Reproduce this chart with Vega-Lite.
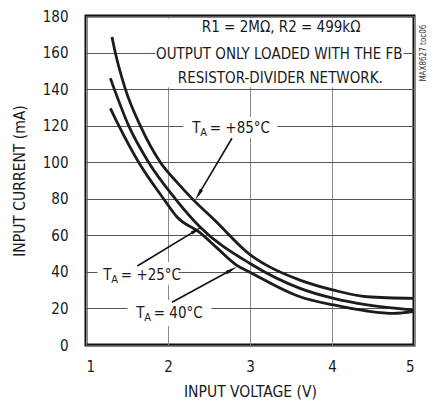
{
  "$schema": "https://vega.github.io/schema/vega-lite/v6.json",
  "width": 328,
  "height": 329,
  "autosize": {"type": "none"},
  "padding": {"left": 86, "top": 16, "right": 19, "bottom": 62},
  "background": "white",
  "config": {
    "view": {"stroke": "#111", "strokeWidth": 3},
    "font": "DejaVu Sans Condensed, DejaVu Sans, sans-serif",
    "axis": {
      "domain": false,
      "ticks": false,
      "tickSize": 0,
      "labelFont": "DejaVu Sans Condensed, DejaVu Sans, sans-serif",
      "titleFont": "DejaVu Sans Condensed, DejaVu Sans, sans-serif",
      "labelFontSize": 15,
      "titleFontSize": 15.5,
      "titleFontWeight": "normal",
      "labelColor": "#1a1a1a",
      "titleColor": "#1a1a1a",
      "gridOpacity": 1,
      "gridWidth": 1,
      "grid": true
    },
    "axisX": {"gridColor": "#8a8a8a"},
    "axisY": {"gridColor": "#555555"}
  },
  "datasets": {
    "curves": [
      {"T": "85", "V": 1.317, "I": 168.5},
      {"T": "85", "V": 1.357, "I": 160.0},
      {"T": "85", "V": 1.48, "I": 140.0},
      {"T": "85", "V": 1.662, "I": 120.0},
      {"T": "85", "V": 1.906, "I": 100.0},
      {"T": "85", "V": 2.10, "I": 89.5},
      {"T": "85", "V": 2.30, "I": 79.8},
      {"T": "85", "V": 2.57, "I": 68.3},
      {"T": "85", "V": 3.00, "I": 49.5},
      {"T": "85", "V": 3.20, "I": 43.7},
      {"T": "85", "V": 3.61, "I": 35.5},
      {"T": "85", "V": 4.02, "I": 30.0},
      {"T": "85", "V": 4.43, "I": 26.4},
      {"T": "85", "V": 5.00, "I": 25.5},
      {"T": "25", "V": 1.297, "I": 145.9},
      {"T": "25", "V": 1.345, "I": 140.0},
      {"T": "25", "V": 1.52, "I": 120.0},
      {"T": "25", "V": 1.763, "I": 100.0},
      {"T": "25", "V": 2.089, "I": 80.0},
      {"T": "25", "V": 2.39, "I": 64.6},
      {"T": "25", "V": 3.00, "I": 44.6},
      {"T": "25", "V": 3.61, "I": 31.0},
      {"T": "25", "V": 4.02, "I": 25.5},
      {"T": "25", "V": 4.43, "I": 21.9},
      {"T": "25", "V": 5.00, "I": 19.1},
      {"T": "40", "V": 1.297, "I": 129.5},
      {"T": "40", "V": 1.40, "I": 120.0},
      {"T": "40", "V": 1.642, "I": 100.0},
      {"T": "40", "V": 1.946, "I": 80.0},
      {"T": "40", "V": 2.11, "I": 70.0},
      {"T": "40", "V": 2.39, "I": 61.5},
      {"T": "40", "V": 2.60, "I": 53.0},
      {"T": "40", "V": 2.84, "I": 43.6},
      {"T": "40", "V": 3.00, "I": 39.8},
      {"T": "40", "V": 3.61, "I": 26.4},
      {"T": "40", "V": 4.02, "I": 21.9},
      {"T": "40", "V": 4.43, "I": 18.6},
      {"T": "40", "V": 4.75, "I": 17.3},
      {"T": "40", "V": 5.00, "I": 18.4}
    ],
    "boxes": [
      {"V": 1.847, "V2": 4.870, "I": 141.0, "I2": 178.7},
      {"V": 2.187, "V2": 3.333, "I": 113.2, "I2": 124.7},
      {"V": 1.139, "V2": 2.126, "I": 32.8, "I2": 45.4},
      {"V": 1.505, "V2": 2.529, "I": 10.4, "I2": 24.6}
    ],
    "notes": [
      {"V": 3.38, "I": 174.1, "txt": "R1 = 2MΩ, R2 = 499kΩ"},
      {"V": 3.357, "I": 159.2, "txt": "OUTPUT ONLY LOADED WITH THE FB"},
      {"V": 3.37, "I": 146.3, "txt": "RESISTOR-DIVIDER NETWORK."}
    ],
    "labels": [
      {"V": 2.296, "I": 118.8, "rest": "= +85°C"},
      {"V": 1.211, "I": 38.3, "rest": "= +25°C"},
      {"V": 1.613, "I": 17.3, "rest": "= 40°C"}
    ],
    "arrows": [
      {"a": "85", "V": 2.780, "I": 113.1},
      {"a": "85", "V": 2.370, "I": 82.1},
      {"a": "25", "V": 1.626, "I": 43.2},
      {"a": "25", "V": 2.352, "I": 63.0},
      {"a": "40", "V": 2.049, "I": 23.4},
      {"a": "40", "V": 2.777, "I": 41.2}
    ],
    "side": [
      {"V": 5.126, "I": 159.7, "txt": "MAX8627 toc06"}
    ]
  },
  "encoding": {
    "x": {"field": "V", "type": "quantitative", "title": "INPUT VOLTAGE (V)", "scale": {"domain": [1, 5], "nice": false, "zero": false},
          "axis": {"values": [1, 2, 3, 4, 5], "labelPadding": 14, "titlePadding": 10, "grid": true}},
    "y": {"field": "I", "type": "quantitative", "title": "INPUT CURRENT (mA)", "scale": {"domain": [0, 180], "nice": false},
          "axis": {"values": [0, 20, 40, 60, 80, 100, 120, 140, 160, 180], "labelPadding": 18, "titlePadding": 15, "grid": true}}
  },
  "layer": [
    {
      "data": {"name": "boxes"},
      "mark": {"type": "rect", "fill": "white", "strokeWidth": 0},
      "encoding": {
        "x2": {"field": "V2"},
        "y2": {"field": "I2"}
      }
    },
    {
      "data": {"name": "curves"},
      "mark": {"type": "line", "interpolate": "monotone", "color": "#1c1c1c", "strokeWidth": 2.8},
      "encoding": {
        "detail": {"field": "T"}
      }
    },
    {
      "data": {"name": "notes"},
      "mark": {"type": "text", "fontSize": 15, "align": "center", "baseline": "middle", "color": "#1a1a1a"},
      "encoding": {
        "text": {"field": "txt"}
      }
    },
    {
      "data": {"name": "labels"},
      "mark": {"type": "text", "fontSize": 15, "align": "left", "baseline": "middle", "color": "#1a1a1a", "text": "T"}
    },
    {
      "data": {"name": "labels"},
      "mark": {"type": "text", "fontSize": 11, "align": "left", "baseline": "middle", "color": "#1a1a1a", "text": "A", "dx": 8, "dy": 5}
    },
    {
      "data": {"name": "labels"},
      "mark": {"type": "text", "fontSize": 15, "align": "left", "baseline": "middle", "color": "#1a1a1a", "dx": 17.5},
      "encoding": {
        "text": {"field": "rest"}
      }
    },
    {
      "data": {"name": "arrows"},
      "mark": {"type": "line", "color": "#111", "strokeWidth": 1.6},
      "encoding": {
        "detail": {"field": "a"}
      }
    },
    {
      "data": {"values": [{"V": 2.370, "I": 82.1}]},
      "mark": {"type": "point", "shape": "M0,-1L-0.3,1L0.3,1Z", "filled": true, "color": "#111", "opacity": 1, "size": 144, "angle": 210.7}
    },
    {
      "data": {"values": [{"V": 2.352, "I": 63.0}]},
      "mark": {"type": "point", "shape": "M0,-1L-0.3,1L0.3,1Z", "filled": true, "color": "#111", "opacity": 1, "size": 144, "angle": 58.7}
    },
    {
      "data": {"values": [{"V": 2.777, "I": 41.2}]},
      "mark": {"type": "point", "shape": "M0,-1L-0.3,1L0.3,1Z", "filled": true, "color": "#111", "opacity": 1, "size": 144, "angle": 61.3}
    },
    {
      "data": {"name": "side"},
      "mark": {"type": "text", "fontSize": 8, "angle": 270, "align": "center", "baseline": "middle", "color": "#333"},
      "encoding": {
        "text": {"field": "txt"}
      }
    }
  ]
}
